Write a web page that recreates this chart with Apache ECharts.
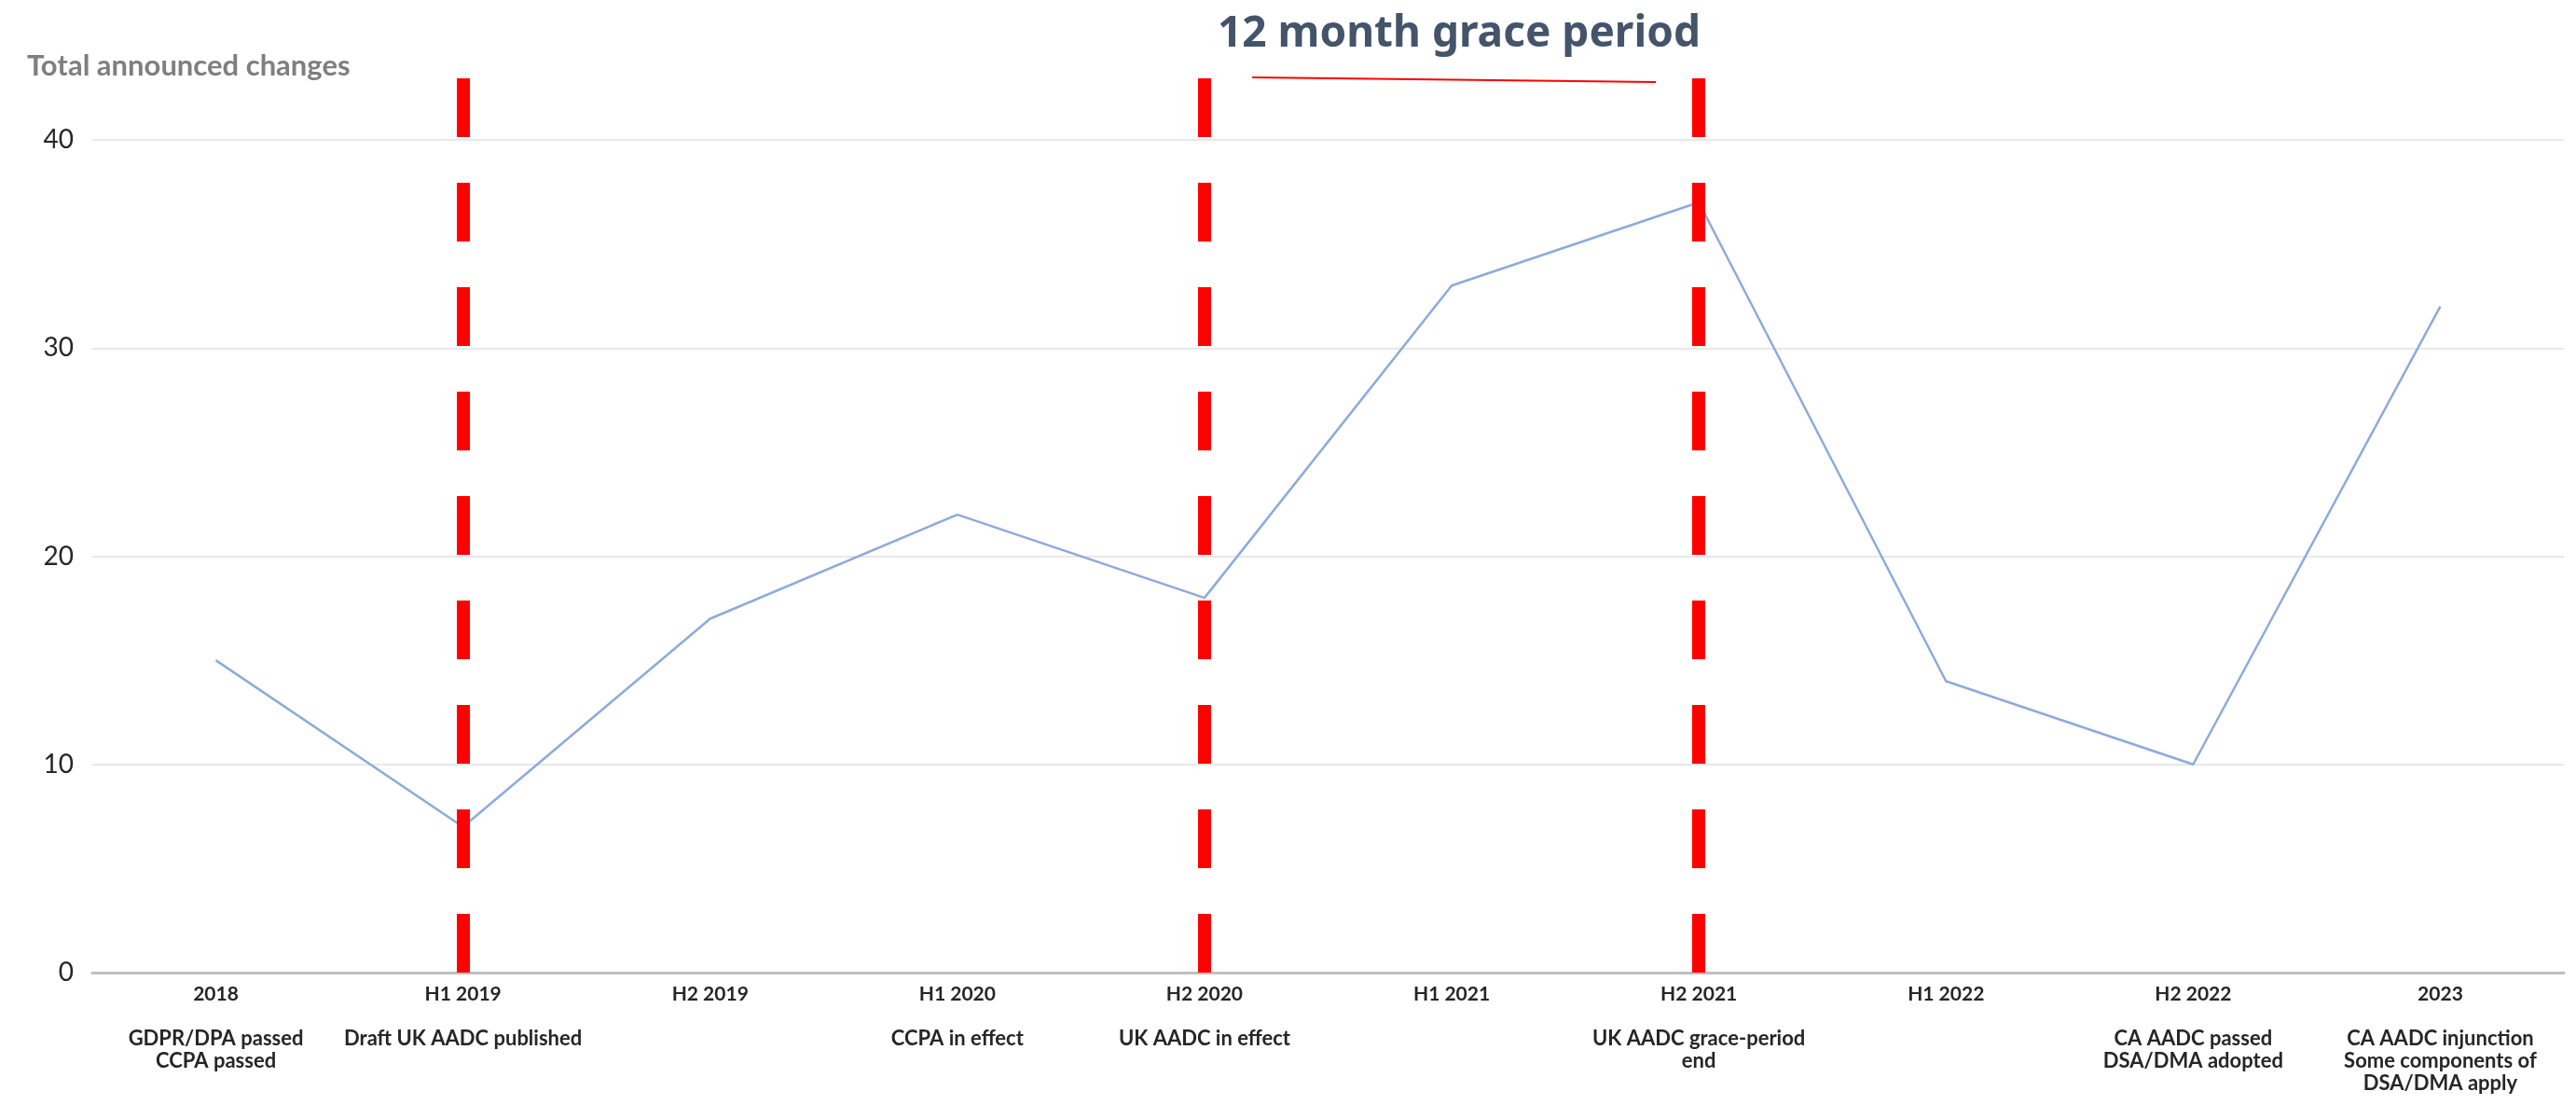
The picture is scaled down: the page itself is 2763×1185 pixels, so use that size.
<!DOCTYPE html>
<html>
<head>
<meta charset="utf-8">
<script src="https://cdn.jsdelivr.net/npm/echarts@6/dist/echarts.min.js"></script>
<style>
  html, body { margin: 0; padding: 0; background: #fff; }
  #chart { width: 2763px; height: 1185px; }
</style>
</head>
<body>
<div id="chart"></div>
<script>
const categories = ['2018', 'H1 2019', 'H2 2019', 'H1 2020', 'H2 2020', 'H1 2021', 'H2 2021', 'H1 2022', 'H2 2022', '2023'];
const events = [
  'GDPR/DPA passed\nCCPA passed',
  'Draft UK AADC published',
  '',
  'CCPA in effect',
  'UK AADC in effect',
  '',
  'UK AADC grace-period\nend',
  '',
  'CA AADC passed\nDSA/DMA adopted',
  'CA AADC injunction\nSome components of\nDSA/DMA apply'
];
const changes = [15, 7, 17, 22, 18, 33, 37, 14, 10, 32];
const milestones = ['H1 2019', 'H2 2020', 'H2 2021'];
const yTicks = [0, 10, 20, 30, 40];

const chart = echarts.init(document.getElementById('chart'));

const font = 'Lato';

const option = {
  animation: false,
  title: [
    {
      text: '12 month grace period',
      left: 1560,
      top: 9,
      textAlign: 'center',
      textStyle: { fontFamily: 'Noto Sans', fontSize: 46, fontWeight: 'bold', color: '#44546A' }
    },
    {
      text: 'Total announced changes',
      left: 24,
      top: 50,
      textStyle: { fontFamily: font, fontSize: 31, fontWeight: 'bold', color: '#7f7f7f' }
    }
  ],
  graphic: [
    {
      type: 'line',
      shape: { x1: 1343, y1: 83, x2: 1776, y2: 88 },
      style: { stroke: '#ff0000', lineWidth: 2 },
      z: 10
    }
  ],
  grid: [
    { left: 99, right: 13, top: 150, bottom: 142 },
    { left: 99, right: 13, top: 79, bottom: 142 }
  ],
  xAxis: [
    {
      type: 'category',
      gridIndex: 0,
      data: categories,
      boundaryGap: true,
      axisTick: { show: false },
      axisLine: { lineStyle: { color: '#bfbfbf', width: 3 } },
      axisLabel: {
        interval: 0,
        margin: 11,
        formatter: function (value, idx) {
          const ev = events[idx];
          let s = '{a|' + value + '}';
          if (ev) {
            s += '\n{a|}\n' + ev.split('\n').map(t => '{b|' + t + '}').join('\n');
          }
          return s;
        },
        rich: {
          a: { fontFamily: font, fontSize: 21, fontWeight: 'bold', color: '#262626', lineHeight: 24, align: 'center' },
          b: { fontFamily: font, fontSize: 22, fontWeight: 'bold', color: '#262626', lineHeight: 24, align: 'center' }
        }
      }
    },
    {
      type: 'category',
      gridIndex: 1,
      data: categories,
      boundaryGap: true,
      show: false
    }
  ],
  yAxis: [
    {
      type: 'value',
      gridIndex: 0,
      min: yTicks[0],
      max: yTicks[yTicks.length - 1],
      interval: 10,
      axisLine: { show: false },
      axisTick: { show: false },
      axisLabel: { fontFamily: font, fontSize: 28, color: '#262626', margin: 20 },
      splitLine: { lineStyle: { color: '#e8e8e8', width: 2 } }
    },
    {
      type: 'value',
      gridIndex: 1,
      min: 0,
      max: 1,
      show: false
    }
  ],
  series: [
    {
      name: 'Total announced changes',
      type: 'line',
      xAxisIndex: 0,
      yAxisIndex: 0,
      data: changes,
      showSymbol: false,
      symbol: 'none',
      lineStyle: { color: '#8eaadb', width: 2.5 },
      z: 2
    },
    {
      name: 'milestones',
      type: 'line',
      xAxisIndex: 1,
      yAxisIndex: 1,
      data: [],
      z: 5,
      markLine: {
        silent: true,
        symbol: ['none', 'none'],
        label: { show: false },
        lineStyle: { color: '#ff0000', width: 14, type: [63, 49], opacity: 1 },
        data: milestones.map(m => ({ xAxis: m }))
      }
    }
  ]
};

chart.setOption(option);
</script>
</body>
</html>
